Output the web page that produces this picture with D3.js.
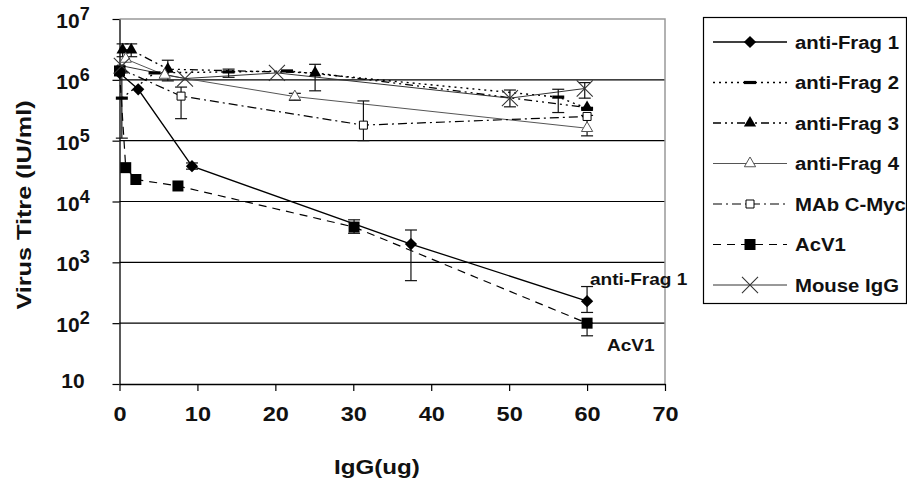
<!DOCTYPE html>
<html>
<head>
<meta charset="utf-8">
<script src="https://cdn.jsdelivr.net/npm/d3@7"></script>
<style>
	body { margin: 0; background: #fff; }
	svg { display: block; font-family: "Liberation Sans", Arial, sans-serif; font-weight: bold; }
</style>
</head>
<body>
<div id="chart"></div>
<script>
// each point: [IgG (ug), titre (IU/ml), error low, error high]
const antiFrag1 = [[0, 1.3e6], [2.4, 7.0e5], [9.3, 3.8e4, 3.4e4, 4.3e4], [37.4, 2.0e3, 5.0e2, 3.4e3], [60, 2.3e2, 1.5e2, 4.0e2]]
const antiFrag2 = [[0.3, 5.0e5, 1.1e5, 1.3e6], [4.5, 1.3e6], [14, 1.35e6, 1.1e6, 1.5e6], [21.5, 1.4e6], [56.3, 5.2e5, 2.9e5, 7.0e5], [60, 3.4e5]]
const antiFrag3 = [[0.4, 3.1e6, 2.4e6, 3.9e6], [1.5, 3.1e6, 2.4e6, 3.9e6], [6.2, 1.5e6, 9.6e5, 2.1e6], [25.1, 1.3e6, 6.6e5, 1.8e6], [60, 3.5e5]]
const antiFrag4 = [[0.8, 2.2e6], [5.8, 1.2e6], [22.5, 5.3e5, 4.6e5, 6.0e5], [60, 1.6e5, 1.2e5, 2.6e5]]
const mabCMyc = [[0.2, 1.5e6], [7.9, 5.4e5, 2.3e5, 7.6e5], [31.3, 1.8e5, 1.0e5, 4.5e5], [60, 2.5e5]]
const acV1 = [[0, 1.4e6], [0.8, 3.6e4], [2.1, 2.3e4], [7.5, 1.8e4], [30.1, 3.8e3, 3.0e3, 5.0e3], [60, 1.0e2, 6.2e1, 1.0e2]]
const mouseIgG = [[0.3, 1.7e6], [8.4, 1.05e6], [20.2, 1.3e6], [50.1, 5.0e5, 3.6e5, 6.8e5], [59.7, 7.2e5, 5.0e5, 9.0e5]]

const seriesNames = ["anti-Frag 1", "anti-Frag 2", "anti-Frag 3", "anti-Frag 4", "MAb C-Myc", "AcV1", "Mouse IgG"]
const xTicks = [0, 10, 20, 30, 40, 50, 60, 70]
const yTicks = [1e1, 1e2, 1e3, 1e4, 1e5, 1e6, 1e7]

const width = 907
const height = 481
const plot = { left: 119.5, right: 665, top: 19, bottom: 384 }

// custom marker for anti-Frag 2 (short thick bar)
const symbolBar = {
	draw(context, size) {
		const w = Math.sqrt(size) * 1.2
		context.rect(-w / 2, -1.6, w, 3.2)
	},
}
const symbolRotSquare = {
	draw(context, size) {
		const r = Math.sqrt(size) / Math.SQRT2
		context.moveTo(0, -r)
		context.lineTo(r, 0)
		context.lineTo(0, r)
		context.lineTo(-r, 0)
		context.closePath()
	},
}
const symbolCross = d3.symbolTimes || d3.symbolX

const styles = [
	{ stroke: "#000", sw: 1.3, dash: null, symbol: symbolRotSquare, size: 75, fill: "#000" },
	{ stroke: "#000", sw: 1.4, dash: "2,4", symbol: symbolBar, size: 100, fill: "#000" },
	{ stroke: "#000", sw: 1.3, dash: "8,4,2,4,2,4", symbol: d3.symbolTriangle, size: 65, fill: "#000" },
	{ stroke: "#555", sw: 1, dash: null, symbol: d3.symbolTriangle, size: 55, fill: "#fff" },
	{ stroke: "#000", sw: 1.2, dash: "9,4,2,4", symbol: d3.symbolSquare, size: 64, fill: "#fff" },
	{ stroke: "#000", sw: 1.2, dash: "8,6", symbol: d3.symbolSquare, size: 121, fill: "#000" },
	{ stroke: "#333", sw: 1, dash: null, symbol: symbolCross, size: 170, fill: "none" },
]
const seriesData = [antiFrag1, antiFrag2, antiFrag3, antiFrag4, mabCMyc, acV1, mouseIgG]
const series = seriesNames.map((name, i) => ({
	name: name,
	points: seriesData[i].map((p) => ({ x: p[0], y: p[1], lo: p[2], hi: p[3] })),
	...styles[i],
}))

const svg = d3
	.select("#chart")
	.append("svg")
	.attr("width", width)
	.attr("height", height)

const x = d3.scaleLinear().domain([0, 70]).range([plot.left, plot.right])
const y = d3.scaleLog().domain([10, 1e7]).range([plot.bottom, plot.top])

function stretch(sel, k) {
	sel.each(function () {
		const w = this.getComputedTextLength()
		d3.select(this).attr("textLength", w * k).attr("lengthAdjust", "spacingAndGlyphs")
	})
}

// grid lines
svg.append("g")
	.selectAll("line")
	.data(yTicks.slice(1, -1))
	.join("line")
	.attr("x1", plot.left)
	.attr("x2", plot.right)
	.attr("y1", (d) => y(d))
	.attr("y2", (d) => y(d))
	.attr("stroke", "#000")
	.attr("stroke-width", 1.2)

// plot area border (top and right)
svg.append("path")
	.attr("d", `M${plot.left},${plot.top}H${plot.right}V${plot.bottom}`)
	.attr("fill", "none")
	.attr("stroke", "#999")
	.attr("stroke-width", 1.5)

// x axis
const xAxis = svg
	.append("g")
	.attr("transform", `translate(0,${plot.bottom})`)
	.call(d3.axisBottom(x).tickValues(xTicks).tickSize(7).tickSizeOuter(0).tickFormat(d3.format("d")))
xAxis.select(".domain").attr("stroke", "#000").attr("stroke-width", 1.3)
xAxis.selectAll(".tick line").attr("stroke", "#000").attr("stroke-width", 1.2)
xAxis.selectAll(".tick text")
	.attr("y", 37)
	.attr("dy", 0)
	.attr("fill", "#111")
	.style("font-size", "21px")
	.style("font-family", '"Liberation Sans", Arial, sans-serif')
	.style("font-weight", "bold")
	.call(stretch, 1.12)

// y axis
const yAxis = svg
	.append("g")
	.attr("transform", `translate(${plot.left},0)`)
	.call(d3.axisLeft(y).tickValues(yTicks).tickSize(7).tickSizeOuter(0).tickFormat(""))
yAxis.select(".domain").attr("stroke", "#000").attr("stroke-width", 1.3)
yAxis.selectAll(".tick line").attr("stroke", "#000").attr("stroke-width", 1.2)

// labels with a superscript exponent sit a little lower than the plain "10"
const yLabels = svg
	.append("g")
	.selectAll("text")
	.data(yTicks)
	.join("text")
	.attr("x", 73)
	.attr("y", (d) => y(d) + (d > 10 ? 9 : 4))
	.attr("text-anchor", "middle")
	.attr("fill", "#111")
	.style("font-size", "21px")
yLabels.each(function (d) {
	const t = d3.select(this)
	const exp = Math.round(Math.log10(d))
	t.append("tspan").text("10")
	if (exp > 1) {
		t.append("tspan").attr("dy", -8).style("font-size", "18px").text(exp)
	}
})

// axis titles
svg.append("text")
	.attr("transform", `translate(31,205) rotate(-90)`)
	.attr("text-anchor", "middle")
	.attr("fill", "#111")
	.style("font-size", "21px")
	.text("Virus Titre (IU/ml)")
	.call(stretch, 1.2)

svg.append("text")
	.attr("x", 377)
	.attr("y", 474)
	.attr("text-anchor", "middle")
	.attr("fill", "#111")
	.style("font-size", "21px")
	.text("IgG(ug)")
	.call(stretch, 1.15)

// series lines
const line = d3
	.line()
	.x((d) => x(d.x))
	.y((d) => y(d.y))

svg.append("g")
	.selectAll("path")
	.data(series)
	.join("path")
	.attr("d", (s) => line(s.points))
	.attr("fill", "none")
	.attr("stroke", (s) => s.stroke)
	.attr("stroke-width", (s) => s.sw)
	.attr("stroke-dasharray", (s) => s.dash)

// error bars
const errGroup = svg.append("g").attr("stroke", "#111").attr("stroke-width", 1.2)
series.forEach((s) => {
	s.points
		.filter((p) => p.lo != null)
		.forEach((p) => {
			const cx = x(p.x)
			errGroup.append("line").attr("x1", cx).attr("x2", cx).attr("y1", y(p.lo)).attr("y2", y(p.hi))
			;[p.lo, p.hi].forEach((v) => {
				errGroup.append("line").attr("x1", cx - 6).attr("x2", cx + 6).attr("y1", y(v)).attr("y2", y(v))
			})
		})
})

// markers
function drawMarker(g, s, cx, cy) {
	g.append("path")
		.attr("transform", `translate(${cx},${cy})`)
		.attr("d", d3.symbol().type(s.symbol).size(s.size)())
		.attr("fill", s.fill)
		.attr("stroke", s.fill === "#000" ? "none" : s.stroke)
		.attr("stroke-width", s.symbol === symbolCross ? 1.1 : 1)
}

const markerGroup = svg.append("g")
series.forEach((s) => {
	s.points.forEach((p) => drawMarker(markerGroup, s, x(p.x), y(p.y)))
})

// end-point annotations
svg.append("text")
	.attr("x", 590)
	.attr("y", 285)
	.attr("fill", "#111")
	.style("font-size", "17px")
	.text("anti-Frag 1")
	.call(stretch, 1.12)

svg.append("text")
	.attr("x", 607)
	.attr("y", 351)
	.attr("fill", "#111")
	.style("font-size", "17px")
	.text("AcV1")
	.call(stretch, 1.12)

// legend
const legend = svg.append("g")
legend
	.append("rect")
	.attr("x", 703.5)
	.attr("y", 17.5)
	.attr("width", 203)
	.attr("height", 286)
	.attr("fill", "#fff")
	.attr("stroke", "#000")
	.attr("stroke-width", 1.2)

series.forEach((s, i) => {
	const ly = 42 + i * 40.5
	legend
		.append("line")
		.attr("x1", 713)
		.attr("x2", 787)
		.attr("y1", ly)
		.attr("y2", ly)
		.attr("stroke", s.stroke)
		.attr("stroke-width", s.sw)
		.attr("stroke-dasharray", s.dash)
	drawMarker(legend, s, 750, ly)
	legend
		.append("text")
		.attr("x", 795)
		.attr("y", ly + 6.5)
		.attr("fill", "#111")
		.style("font-size", "18px")
		.text(s.name)
		.call(stretch, 1.13)
})
</script>
</body>
</html>
